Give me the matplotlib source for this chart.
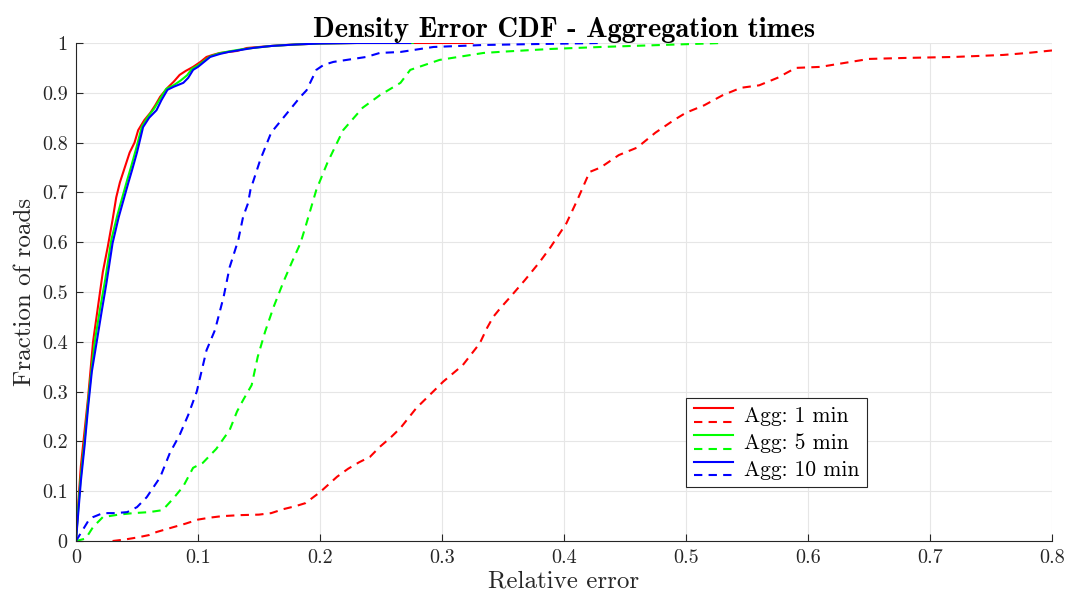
import matplotlib
matplotlib.use('Agg')
import matplotlib.pyplot as plt
from matplotlib.legend_handler import HandlerBase
from matplotlib.lines import Line2D

plt.rcParams['font.family'] = 'cmr10'
plt.rcParams['mathtext.fontset'] = 'cm'
plt.rcParams['axes.formatter.use_mathtext'] = True

# Данные
x_1min = [0, 0.002, 0.004, 0.007, 0.010, 0.014, 0.018, 0.022, 0.026, 0.030, 0.033, 0.036, 0.040, 0.044,
          0.048, 0.051, 0.056, 0.061, 0.065, 0.069, 0.075, 0.080, 0.085, 0.090, 0.096, 0.102, 0.107,
          0.112, 0.118, 0.125, 0.132, 0.140, 0.150, 0.165, 0.180, 0.200, 0.230, 0.270, 0.300, 0.325]
y_1min = [0, 0.08, 0.15, 0.22, 0.29, 0.40, 0.47, 0.54, 0.59, 0.645, 0.69, 0.72, 0.75, 0.78,
          0.80, 0.825, 0.845, 0.86, 0.875, 0.892, 0.91, 0.922, 0.936, 0.944, 0.952, 0.962, 0.972,
          0.976, 0.98, 0.982, 0.984, 0.99, 0.992, 0.995, 0.997, 0.999, 1.0, 1.0, 1.0, 1.0]

x_5min = [0, 0.002, 0.004, 0.007, 0.010, 0.013, 0.016, 0.020, 0.024, 0.029, 0.034, 0.038, 0.042, 0.045,
          0.049, 0.054, 0.059, 0.064, 0.069, 0.074, 0.080, 0.086, 0.091, 0.095, 0.100, 0.105, 0.110,
          0.117, 0.125, 0.135, 0.145, 0.160, 0.180, 0.200, 0.230, 0.276]
y_5min = [0, 0.07, 0.13, 0.20, 0.28, 0.35, 0.41, 0.47, 0.525, 0.605, 0.655, 0.69, 0.725, 0.75,
          0.785, 0.832, 0.852, 0.868, 0.888, 0.908, 0.915, 0.925, 0.935, 0.948, 0.955, 0.964, 0.973,
          0.979, 0.983, 0.987, 0.99, 0.994, 0.997, 0.999, 1.0, 1.0]

x_10min = [0, 0.002, 0.004, 0.007, 0.010, 0.013, 0.017, 0.021, 0.025, 0.030, 0.035, 0.039, 0.043, 0.046,
           0.050, 0.055, 0.060, 0.066, 0.070, 0.075, 0.080, 0.088, 0.092, 0.096, 0.100, 0.105, 0.110,
           0.118, 0.125, 0.135, 0.145, 0.160, 0.180, 0.200, 0.230, 0.274]
y_10min = [0, 0.06, 0.12, 0.19, 0.27, 0.34, 0.40, 0.46, 0.518, 0.598, 0.65, 0.685, 0.72, 0.745,
           0.78, 0.831, 0.85, 0.865, 0.885, 0.906, 0.912, 0.92, 0.93, 0.946, 0.952, 0.962, 0.972,
           0.978, 0.982, 0.986, 0.99, 0.994, 0.997, 0.999, 1.0, 1.0]

xd_1min = [0.030, 0.040, 0.050, 0.060, 0.066, 0.080, 0.090, 0.100, 0.110, 0.120, 0.135, 0.150, 0.160,
           0.170, 0.180, 0.188, 0.200, 0.214, 0.223, 0.232, 0.241, 0.249, 0.258, 0.266, 0.279, 0.294,
           0.301, 0.317, 0.331, 0.337, 0.342, 0.348, 0.356, 0.368, 0.380, 0.389, 0.402, 0.411, 0.421,
           0.430, 0.445, 0.460, 0.475, 0.490, 0.500, 0.515, 0.530, 0.545, 0.560, 0.575, 0.590, 0.610,
           0.630, 0.650, 0.680, 0.720, 0.760, 0.780, 0.800]
yd_1min = [0, 0.003, 0.007, 0.012, 0.018, 0.028, 0.035, 0.043, 0.047, 0.05, 0.052, 0.053, 0.056,
           0.064, 0.07, 0.076, 0.098, 0.129, 0.145, 0.158, 0.169, 0.189, 0.208, 0.227, 0.267, 0.303,
           0.32, 0.353, 0.397, 0.428, 0.45, 0.468, 0.49, 0.524, 0.56, 0.59, 0.638, 0.685, 0.741,
           0.75, 0.775, 0.79, 0.82, 0.845, 0.86, 0.875, 0.895, 0.91, 0.915, 0.93, 0.95, 0.952,
           0.96, 0.968, 0.97, 0.972, 0.976, 0.98, 0.985]

xd_5min = [0.0, 0.008, 0.014, 0.022, 0.035, 0.047, 0.060, 0.071, 0.080, 0.088, 0.096, 0.104, 0.115,
           0.126, 0.132, 0.137, 0.144, 0.149, 0.155, 0.162, 0.170, 0.177, 0.184, 0.188, 0.197, 0.206,
           0.219, 0.235, 0.249, 0.266, 0.274, 0.298, 0.334, 0.353, 0.389, 0.430, 0.480, 0.530]
yd_5min = [0, 0.005, 0.028, 0.048, 0.053, 0.056, 0.058, 0.062, 0.086, 0.11, 0.147, 0.157, 0.185,
           0.223, 0.26, 0.283, 0.313, 0.37, 0.42, 0.47, 0.52, 0.56, 0.598, 0.63, 0.705, 0.759,
           0.825, 0.87, 0.895, 0.92, 0.946, 0.966, 0.98, 0.983, 0.988, 0.992, 0.996, 1.0]

xd_10min = [0.0, 0.005, 0.010, 0.014, 0.022, 0.032, 0.042, 0.050, 0.058, 0.069, 0.077, 0.085, 0.092,
            0.099, 0.107, 0.114, 0.121, 0.126, 0.133, 0.137, 0.141, 0.143, 0.151, 0.160, 0.170, 0.180,
            0.184, 0.189, 0.197, 0.203, 0.211, 0.238, 0.249, 0.266, 0.293, 0.334, 0.380, 0.430]
yd_10min = [0, 0.02, 0.04, 0.048, 0.056, 0.056, 0.058, 0.068, 0.088, 0.128, 0.177, 0.213, 0.253,
            0.3, 0.383, 0.424, 0.49, 0.55, 0.604, 0.651, 0.678, 0.705, 0.765, 0.82, 0.85, 0.88,
            0.892, 0.905, 0.946, 0.956, 0.962, 0.972, 0.98, 0.982, 0.992, 0.996, 0.998, 1.0]

labels = ['Agg: 1 min', 'Agg: 5 min', 'Agg: 10 min']
colors = ['#ff0000', '#00ff00', '#0000ff']
dash = (4, 3)


# Легенда: сплошная линия над пунктирной
class HandlerPair(HandlerBase):
    def create_artists(self, legend, orig_handle, xdescent, ydescent, width, height, fontsize, trans):
        c = orig_handle.get_color()
        y1 = height * 0.85 - ydescent
        y2 = height * 0.1 - ydescent
        l1 = Line2D([-xdescent, width - xdescent], [y1, y1], color=c, lw=1.5, transform=trans)
        l2 = Line2D([-xdescent, width - xdescent], [y2, y2], color=c, lw=1.5, dashes=dash, transform=trans)
        return [l1, l2]


fig = plt.figure(figsize=(10.73, 6.03), dpi=100)
ax = fig.add_axes([0.0708, 0.1028, 0.9096, 0.8259])

solid = [(x_1min, y_1min), (x_5min, y_5min), (x_10min, y_10min)]
dashed = [(xd_1min, yd_1min), (xd_5min, yd_5min), (xd_10min, yd_10min)]

handles = []
for (xs, ys), c in zip(solid, colors):
    h, = ax.plot(xs, ys, color=c, lw=1.5)
    handles.append(h)
for (xs, ys), c in zip(dashed, colors):
    ax.plot(xs, ys, color=c, lw=1.5, dashes=dash)

ax.set_xlim(0, 0.8)
ax.set_ylim(0, 1)
ax.set_xticks([i / 10 for i in range(9)])
ax.set_xticklabels(['0'] + ['%.1f' % (i / 10) for i in range(1, 9)])
ax.set_yticks([i / 10 for i in range(11)])
ax.set_yticklabels(['0'] + ['%.1f' % (i / 10) for i in range(1, 10)] + ['1'])
ax.tick_params(direction='in', length=5, labelsize=14.5, colors='#262626', pad=6)
ax.grid(True, color='#e6e6e6', lw=0.8)
ax.set_axisbelow(True)
for s in ['top', 'right']:
    ax.spines[s].set_visible(False)
for s in ['left', 'bottom']:
    ax.spines[s].set_color('#262626')

ax.set_xlabel('Relative error', fontsize=18, color='#262626', labelpad=2)
ax.set_ylabel('Fraction of roads', fontsize=18, color='#262626', labelpad=4)
ax.set_title('Density Error CDF - Aggregation times', fontsize=20.5, fontfamily='cmb10', pad=3)

leg = ax.legend(handles, labels, handler_map={Line2D: HandlerPair()}, loc='lower left',
                bbox_to_anchor=(0.625, 0.108), fontsize=15.5, fancybox=False, framealpha=1,
                edgecolor='#262626', handlelength=1.85, handleheight=0.9, labelspacing=0.3,
                borderpad=0.35, handletextpad=0.5, borderaxespad=0)
leg.get_frame().set_linewidth(0.8)

fig.savefig('out.png', dpi=100)
